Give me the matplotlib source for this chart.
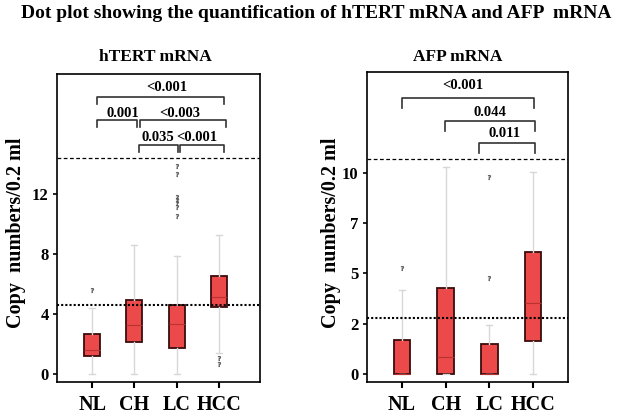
"""Box plots of hTERT and AFP mRNA copy numbers by patient group."""

import matplotlib

matplotlib.use("Agg")

import matplotlib.pyplot as plt  # noqa: E402

plt.rcParams["font.family"] = ["Liberation Serif", "DejaVu Serif"]
plt.rcParams["font.weight"] = "bold"

# Groups
groups = ["NL", "CH", "LC", "HCC"]

# hTERT mRNA box statistics
htert_q1 = [1.2, 2.13, 1.73, 4.47]
htert_med = [1.6, 3.27, 3.33, 5.13]
htert_q3 = [2.67, 4.93, 4.6, 6.53]
htert_whislo = [0.0, 0.0, 0.0, 1.4]
htert_whishi = [4.4, 8.6, 7.87, 9.27]
htert_fliers = [[5.6], [], [13.87, 13.33, 11.8, 11.6, 11.4, 11.13, 10.53], [1.07, 0.67]]
htert_cutoff = 4.6
htert_upper = 14.4
htert_ticks = [0, 4, 8, 12]
htert_ticklabels = ["0", "4", "8", "12"]

# AFP mRNA box statistics
afp_q1 = [0.0, 0.0, 0.0, 1.64]
afp_med = [0.0, 0.85, 0.0, 3.53]
afp_q3 = [1.7, 4.28, 1.5, 6.07]
afp_whislo = [0.0, 0.0, 0.0, 0.0]
afp_whishi = [4.18, 10.3, 2.44, 10.05]
afp_fliers = [[5.27], [], [9.8, 4.78], []]
afp_cutoff = 2.79
afp_upper = 10.7
afp_ticks = [0, 2.5, 5, 7.5, 10]
afp_ticklabels = ["0", "2", "5", "7", "10"]

# Significance brackets: (x start, x end, y, label, label x, label y)
htert_sig = [
    (1.12, 4.12, 18.47, "<0.001", 2.77, 19.07),
    (1.12, 2.06, 16.93, "0.001", 1.73, 17.4),
    (2.13, 4.17, 16.93, "<0.003", 3.08, 17.4),
    (2.11, 3.03, 15.27, "0.035", 2.56, 15.8),
    (3.08, 4.12, 15.27, "<0.001", 3.48, 15.8),
]
afp_sig = [
    (1.0, 4.02, 13.73, "<0.001", 2.40, 14.33),
    (1.98, 4.05, 12.59, "0.044", 3.02, 12.99),
    (2.76, 4.05, 11.49, "0.011", 3.34, 11.94),
]

_BOX = "#ec4a4a"
_EDGE = "#3a0c0c"
_WHISK = "#d8d8d8"
_BRACKET = "#333333"


def draw_panel(ax, q1, med, q3, wlo, whi, fliers, cutoff, upper,
               ticks, ticklabels, sig, drop, ylim, xlim):
    stats = []
    for i, g in enumerate(groups):
        stats.append({
            "label": g, "q1": q1[i], "med": med[i], "q3": q3[i],
            "whislo": wlo[i], "whishi": whi[i], "fliers": fliers[i],
        })
    ax.bxp(
        stats, positions=range(1, len(groups) + 1), widths=0.38,
        capwidths=0.14, patch_artist=True, showfliers=True,
        boxprops=dict(facecolor=_BOX, edgecolor=_EDGE, linewidth=1.3),
        medianprops=dict(color="#b83232", linewidth=0.8),
        whiskerprops=dict(color=_WHISK, linewidth=1),
        capprops=dict(color=_WHISK, linewidth=1),
        flierprops=dict(marker="$?$", markersize=3.5, markeredgewidth=0.2,
                        markerfacecolor="#555555", markeredgecolor="#555555"),
        zorder=3,
    )
    ax.axhline(upper, color="black", linestyle=(0, (3, 2)), linewidth=0.9)
    ax.axhline(cutoff, color="black", linestyle=(0, (1, 1)), linewidth=1.5,
               zorder=4)

    for x0, x1, y, label, tx, ty in sig:
        ax.plot([x0, x0, x1, x1], [y - drop, y, y, y - drop],
                color=_BRACKET, linewidth=1.2, clip_on=False)
        ax.text(tx, ty, label, ha="center", va="center",
                fontsize=10.5, fontweight="bold")

    ax.set_xlim(*xlim)
    ax.set_ylim(*ylim)
    ax.set_yticks(ticks)
    ax.set_yticklabels(ticklabels, fontsize=12, fontweight="bold")
    ax.set_xticks(range(1, len(groups) + 1))
    ax.set_xticklabels(groups, fontsize=14.5, fontweight="bold")
    ax.tick_params(axis="y", length=3, width=1.2, pad=3)
    ax.tick_params(axis="x", length=4, width=1.5, pad=5)
    for sp in ax.spines.values():
        sp.set_color("black")
        sp.set_linewidth(1.2)


fig = plt.figure(figsize=(6.29, 4.16), dpi=100, facecolor="white")
ax1 = fig.add_axes([57 / 629, 1 - 382 / 416, 203 / 629, 308 / 416])
ax2 = fig.add_axes([367 / 629, 1 - 382 / 416, 201 / 629, 310 / 416])

draw_panel(ax1, htert_q1, htert_med, htert_q3, htert_whislo, htert_whishi,
           htert_fliers, htert_cutoff, htert_upper, htert_ticks,
           htert_ticklabels, htert_sig, 0.45, (-0.53, 20.0), (0.17, 4.97))
draw_panel(ax2, afp_q1, afp_med, afp_q3, afp_whislo, afp_whishi,
           afp_fliers, afp_cutoff, afp_upper, afp_ticks,
           afp_ticklabels, afp_sig, 0.5, (-0.4, 15.0), (0.2, 4.8))

fig.text(0.502, 1 - 14 / 416,
         "Dot plot showing the quantification of hTERT mRNA and AFP  mRNA",
         ha="center", va="center", fontsize=14, fontweight="bold")
fig.text(155 / 629, 1 - 57 / 416, "hTERT mRNA", ha="center", va="center",
         fontsize=12.5, fontweight="bold")
fig.text(458 / 629, 1 - 57 / 416, "AFP mRNA", ha="center", va="center",
         fontsize=12.5, fontweight="bold")
for xpix in (16, 331):
    fig.text(xpix / 629, 1 - 232.5 / 416, "Copy  numbers/0.2 ml",
             rotation=90, ha="center", va="center",
             fontsize=14.5, fontweight="bold")

fig.savefig("out.png", dpi=100, facecolor="white")
plt.close(fig)
